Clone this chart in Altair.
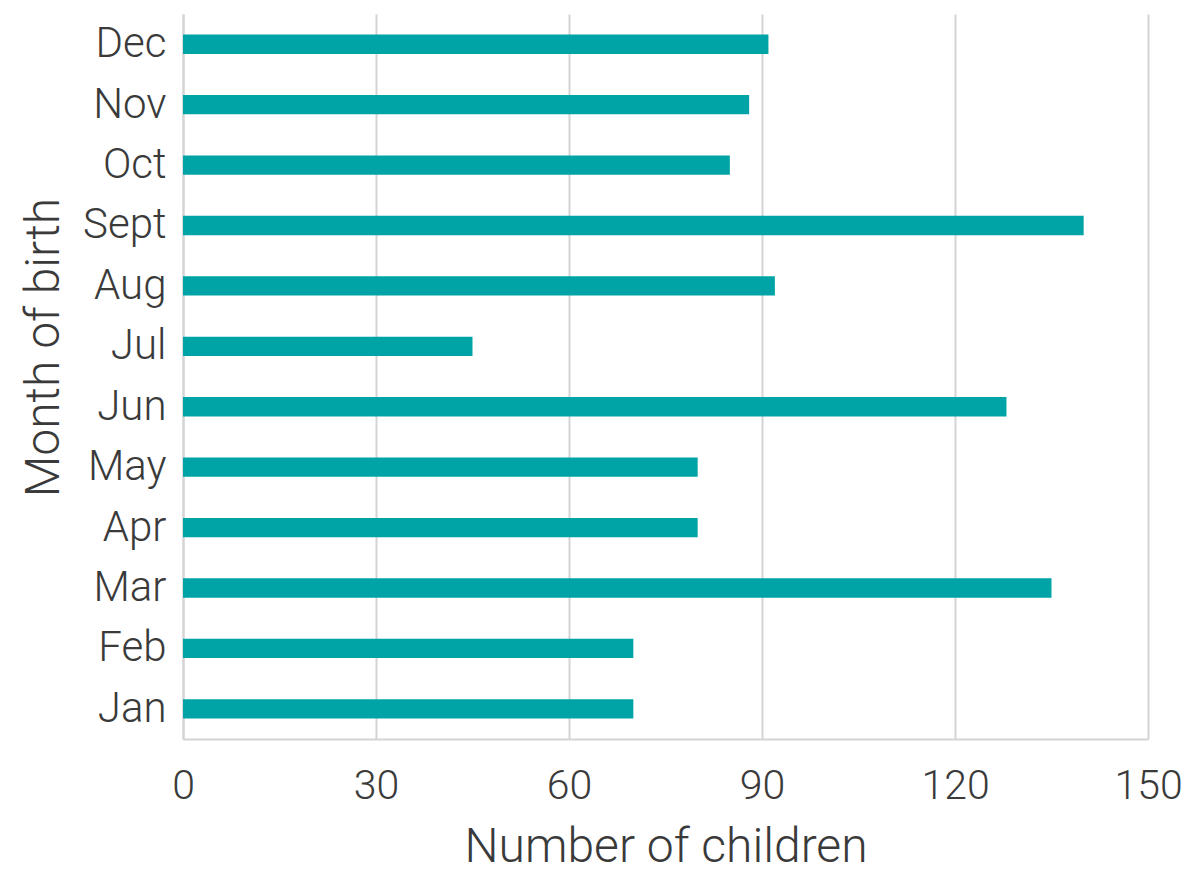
import altair as alt
import pandas as pd

months = ["Jan", "Feb", "Mar", "Apr", "May", "Jun", "Jul", "Aug", "Sept", "Oct", "Nov", "Dec"]
children = [70, 70, 135, 80, 80, 128, 45, 92, 140, 85, 88, 91]

df = pd.DataFrame({"month": months, "children": children})

FONT = "Roboto"
TEXT = "#3a3a3a"

chart = (
    alt.Chart(df)
    .mark_bar(color="#00A3A6")
    .encode(
        x=alt.X(
            "children:Q",
            title="Number of children",
            scale=alt.Scale(domain=[0, 150], nice=False),
            axis=alt.Axis(
                values=[0, 30, 60, 90, 120, 150],
                grid=True,
                gridColor="#d4d4d4",
                gridWidth=2,
                domainColor="#d4d4d4",
                domainWidth=2,
                ticks=False,
                labelFlush=False,
                labelPadding=27,
                labelFontSize=41,
                labelFont=FONT,
                labelFontWeight=300,
                labelColor=TEXT,
                titleFont=FONT,
                titleFontSize=48,
                titleFontWeight=300,
                titleColor=TEXT,
                titlePadding=17,
            ),
        ),
        y=alt.Y(
            "month:N",
            title="Month of birth",
            sort=months[::-1],
            scale=alt.Scale(paddingInner=0.68, paddingOuter=0.34),
            axis=alt.Axis(
                grid=False,
                domainColor="#d4d4d4",
                domainWidth=2,
                ticks=False,
                labelPadding=17,
                labelFontSize=42,
                labelFont=FONT,
                labelFontWeight=300,
                labelColor=TEXT,
                titleFont=FONT,
                titleFontSize=48,
                titleFontWeight=300,
                titleColor=TEXT,
                titlePadding=14,
                titleY=333,
            ),
        ),
    )
    .properties(
        width=965,
        height=725,
        autosize=alt.AutoSizeParams(type="none"),
        padding={"left": 175, "top": 6, "right": 34, "bottom": 135},
    )
    .configure_view(stroke=None)
)

chart.save("out.html", embed_options={"renderer": "svg", "actions": False})
